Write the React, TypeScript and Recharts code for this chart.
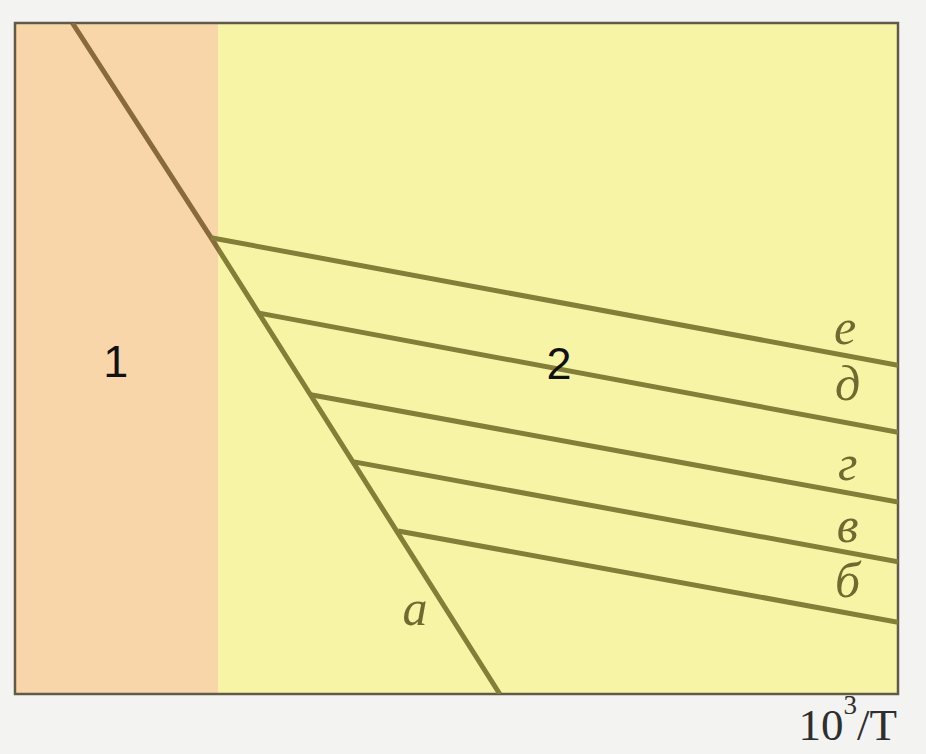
import React from 'react';
import { LineChart, Line, XAxis, YAxis, ReferenceArea, ReferenceDot } from 'recharts';

// Axis units: x = 10^3/T (arbitrary), y = log value (arbitrary)
const X_DOMAIN: [number, number] = [0, 10];
const Y_DOMAIN: [number, number] = [0, 10];

// Boundary between region 1 and region 2
const REGION_BOUNDARY = 2.3;

// Main (steep) line "а"
const lineA = [
  { x: 0.65, y: 10 },
  { x: 2.22, y: 6.8 },
  { x: 5.49, y: 0 },
];

// Branches leaving line "а"
const lineE = [{ x: 2.22, y: 6.8 }, { x: 10, y: 4.9 }];
const lineD = [{ x: 2.75, y: 5.68 }, { x: 10, y: 3.9 }];
const lineG = [{ x: 3.35, y: 4.46 }, { x: 10, y: 2.86 }];
const lineV = [{ x: 3.84, y: 3.46 }, { x: 10, y: 1.97 }];
const lineB = [{ x: 4.34, y: 2.43 }, { x: 10, y: 1.07 }];

const branches = [
  { key: 'e', data: lineE },
  { key: 'd', data: lineD },
  { key: 'g', data: lineG },
  { key: 'v', data: lineV },
  { key: 'b', data: lineB },
];

// Line captions
const lineLabels = [
  { text: 'е', x: 9.4, y: 5.47 },
  { text: 'д', x: 9.43, y: 4.63 },
  { text: 'г', x: 9.43, y: 3.44 },
  { text: 'в', x: 9.43, y: 2.52 },
  { text: 'б', x: 9.43, y: 1.7 },
  { text: 'а', x: 4.53, y: 1.28 },
];

// Region numbers
const regionLabels = [
  { text: '1', x: 1.14, y: 4.96 },
  { text: '2', x: 6.16, y: 4.93 },
];

const AXIS_TITLE_POS = { x: 9.43, y: -0.69 };

const ORANGE = '#f9d6a9';
const YELLOW = '#f7f5a5';
const OLIVE = '#837e38';
const BROWN = '#886a3d';

const aMinX = Math.min(...lineA.map((p) => p.x));
const aMaxX = Math.max(...lineA.map((p) => p.x));
const aSplit = (REGION_BOUNDARY - aMinX) / (aMaxX - aMinX);

const centerText = (text: string, style: React.SVGProps<SVGTextElement>) => (props: any) => {
  const vb = props.viewBox || {};
  const cx = (vb.x ?? 0) + (vb.width ?? 0) / 2;
  const cy = (vb.y ?? 0) + (vb.height ?? 0) / 2;
  return (
    <text x={cx} y={cy} textAnchor="middle" dominantBaseline="central" {...style}>
      {text}
    </text>
  );
};

const axisTitle = (props: any) => {
  const vb = props.viewBox || {};
  const cx = (vb.x ?? 0) + (vb.width ?? 0) / 2;
  const cy = (vb.y ?? 0) + (vb.height ?? 0) / 2;
  return (
    <text
      x={cx}
      y={cy}
      textAnchor="middle"
      fontFamily="'Liberation Serif', serif"
      fontSize={45}
      fill="#2e2e2e"
    >
      <tspan>10</tspan>
      <tspan dy={-26} fontSize={27}>3</tspan>
      <tspan dy={26}>/T</tspan>
    </text>
  );
};

export default function App() {
  return (
    <div
      style={{
        position: 'absolute',
        left: 0,
        top: 0,
        width: 926,
        height: 754,
        background: '#f3f3f2',
      }}
    >
      <LineChart
        width={926}
        height={754}
        margin={{ top: 23, right: 28, bottom: 60, left: 15 }}
      >
        <defs>
          <linearGradient id="lineAStroke" x1="0" y1="0" x2="1" y2="0">
            <stop offset={aSplit} stopColor={BROWN} />
            <stop offset={aSplit} stopColor={OLIVE} />
          </linearGradient>
        </defs>
        <XAxis type="number" dataKey="x" domain={X_DOMAIN} hide allowDataOverflow />
        <YAxis type="number" dataKey="y" domain={Y_DOMAIN} hide allowDataOverflow />

        <ReferenceArea
          x1={X_DOMAIN[0]}
          x2={REGION_BOUNDARY}
          y1={Y_DOMAIN[0]}
          y2={Y_DOMAIN[1]}
          fill={ORANGE}
          fillOpacity={1}
          stroke="none"
        />
        <ReferenceArea
          x1={REGION_BOUNDARY}
          x2={X_DOMAIN[1]}
          y1={Y_DOMAIN[0]}
          y2={Y_DOMAIN[1]}
          fill={YELLOW}
          fillOpacity={1}
          stroke="none"
        />
        <ReferenceArea
          x1={X_DOMAIN[0]}
          x2={X_DOMAIN[1]}
          y1={Y_DOMAIN[0]}
          y2={Y_DOMAIN[1]}
          fill="none"
          stroke="#5f5b48"
          strokeWidth={2.5}
        />

        <Line
          data={lineA}
          dataKey="y"
          type="linear"
          stroke="url(#lineAStroke)"
          strokeWidth={5}
          dot={false}
          isAnimationActive={false}
        />
        {branches.map((b) => (
          <Line
            key={b.key}
            data={b.data}
            dataKey="y"
            type="linear"
            stroke={OLIVE}
            strokeWidth={5}
            dot={false}
            isAnimationActive={false}
          />
        ))}

        {lineLabels.map((l) => (
          <ReferenceDot
            key={l.text}
            x={l.x}
            y={l.y}
            r={1}
            fill="none"
            stroke="none"
            label={centerText(l.text, {
              fontFamily: "'Liberation Serif', serif",
              fontStyle: 'italic',
              fontSize: 50,
              fill: '#6f6a30',
            })}
          />
        ))}
        {regionLabels.map((l) => (
          <ReferenceDot
            key={l.text}
            x={l.x}
            y={l.y}
            r={1}
            fill="none"
            stroke="none"
            label={centerText(l.text, {
              fontFamily: "'Liberation Sans', Arial, sans-serif",
              fontSize: 45,
              fill: '#111',
            })}
          />
        ))}
        <ReferenceDot
          x={AXIS_TITLE_POS.x}
          y={AXIS_TITLE_POS.y}
          r={1}
          fill="none"
          stroke="none"
          ifOverflow="visible"
          label={axisTitle}
        />
      </LineChart>
    </div>
  );
}
